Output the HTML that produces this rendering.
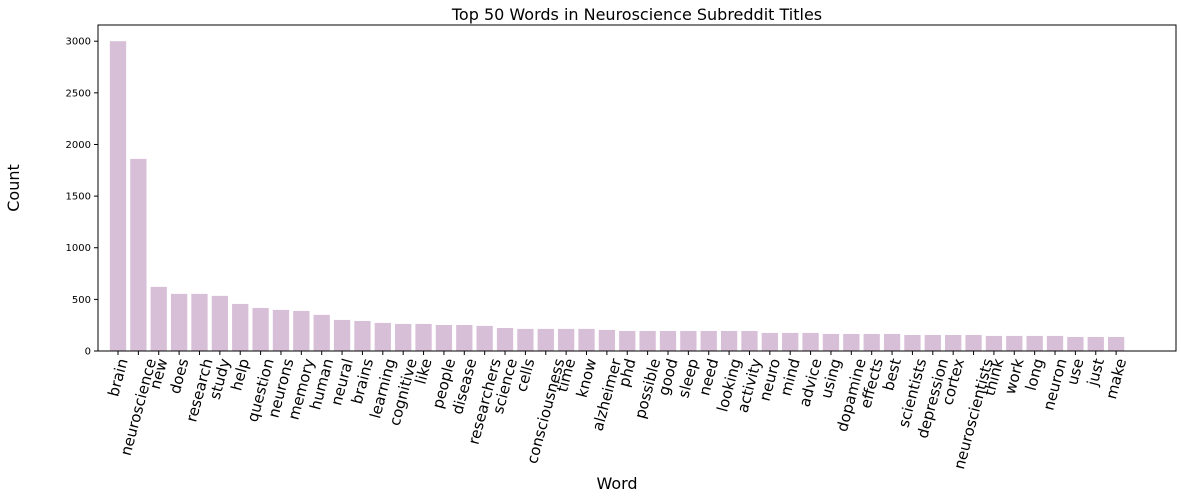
<!DOCTYPE html>
<html><head><meta charset="utf-8"><style>
body{margin:0;background:#fff;}
svg{display:block;font-family:"DejaVu Sans","Liberation Sans",sans-serif;}
</style></head><body>
<svg id="chart" width="1181" height="499" viewBox="0 0 1181 499">
<rect x="0" y="0" width="1181" height="499" fill="#fff"/>
<text x="637" y="20" text-anchor="middle" font-size="16" fill="#000">Top 50 Words in Neuroscience Subreddit Titles</text>
<text transform="translate(19,188) rotate(-90)" text-anchor="middle" font-size="16" fill="#000">Count</text>
<text x="617" y="489" text-anchor="middle" font-size="16" fill="#000">Word</text>
<g id="bars"></g><g id="yticks"></g><g id="xticks"></g>
<rect x="98" y="25" width="1078" height="326" fill="none" stroke="#000" stroke-width="1"/>
</svg>
<script>
const words=["brain","neuroscience","new","does","research","study","help","question","neurons","memory","human","neural","brains","learning","cognitive","like","people","disease","researchers","science","cells","consciousness","time","know","alzheimer","phd","possible","good","sleep","need","looking","activity","neuro","mind","advice","using","dopamine","effects","best","scientists","depression","cortex","neuroscientists","think","work","long","neuron","use","just","make"];
const counts=[3000,1860,621,553,553,534,456,417,398,388,350,301,291,272,262,262,252,252,243,223,214,214,214,214,204,194,194,194,194,194,194,194,175,175,175,165,165,165,165,155,155,155,155,146,146,146,146,136,136,136];
const yTicks=[0,500,1000,1500,2000,2500,3000];
const NS="http://www.w3.org/2000/svg";
const L=98,R=1176,T=25,B=351;
const yMax=3157;
function ys(v){return B-(v/yMax)*(B-T);}
const step=20.37;
function xs(i){return 118+step*i;}
const bw=step*0.8;
const gb=document.getElementById('bars'),gy=document.getElementById('yticks'),gx=document.getElementById('xticks');
counts.forEach((v,i)=>{
 const r=document.createElementNS(NS,'rect');
 r.setAttribute('x',xs(i)-bw/2);r.setAttribute('y',ys(v));
 r.setAttribute('width',bw);r.setAttribute('height',B-ys(v));
 r.setAttribute('fill','#d8bfd8');
 
 
 gb.appendChild(r);
});
yTicks.forEach(t=>{
 const y=ys(t);
 const l=document.createElementNS(NS,'line');
 l.setAttribute('x1',L-4);l.setAttribute('x2',L);l.setAttribute('y1',y);l.setAttribute('y2',y);l.setAttribute('stroke','#000');
 
 
 gy.appendChild(l);
 const tx=document.createElementNS(NS,'text');
 tx.setAttribute('x',L-7);tx.setAttribute('y',y+3.5);tx.setAttribute('text-anchor','end');tx.setAttribute('font-size','10');
 tx.textContent=t;
 
 
 gy.appendChild(tx);
});
const a=75*Math.PI/180;
words.forEach((w,i)=>{
 const x=xs(i);
 const l=document.createElementNS(NS,'line');
 l.setAttribute('x1',x);l.setAttribute('x2',x);l.setAttribute('y1',B);l.setAttribute('y2',B+4);l.setAttribute('stroke','#000');
 
 
 gx.appendChild(l);
 const tx=document.createElementNS(NS,'text');
 tx.setAttribute('font-size','15');tx.setAttribute('text-anchor','middle');
 tx.textContent=w;
 
 
 gx.appendChild(tx);
 const len=tx.getComputedTextLength();
 const h=15;
 const H=len*Math.sin(a)+h*Math.cos(a);
 const cy=357+H/2;
 tx.setAttribute('x',0);tx.setAttribute('y',5);
 tx.setAttribute('transform','translate('+x+','+cy+') rotate(-75)');
});
</script>
</body></html>
